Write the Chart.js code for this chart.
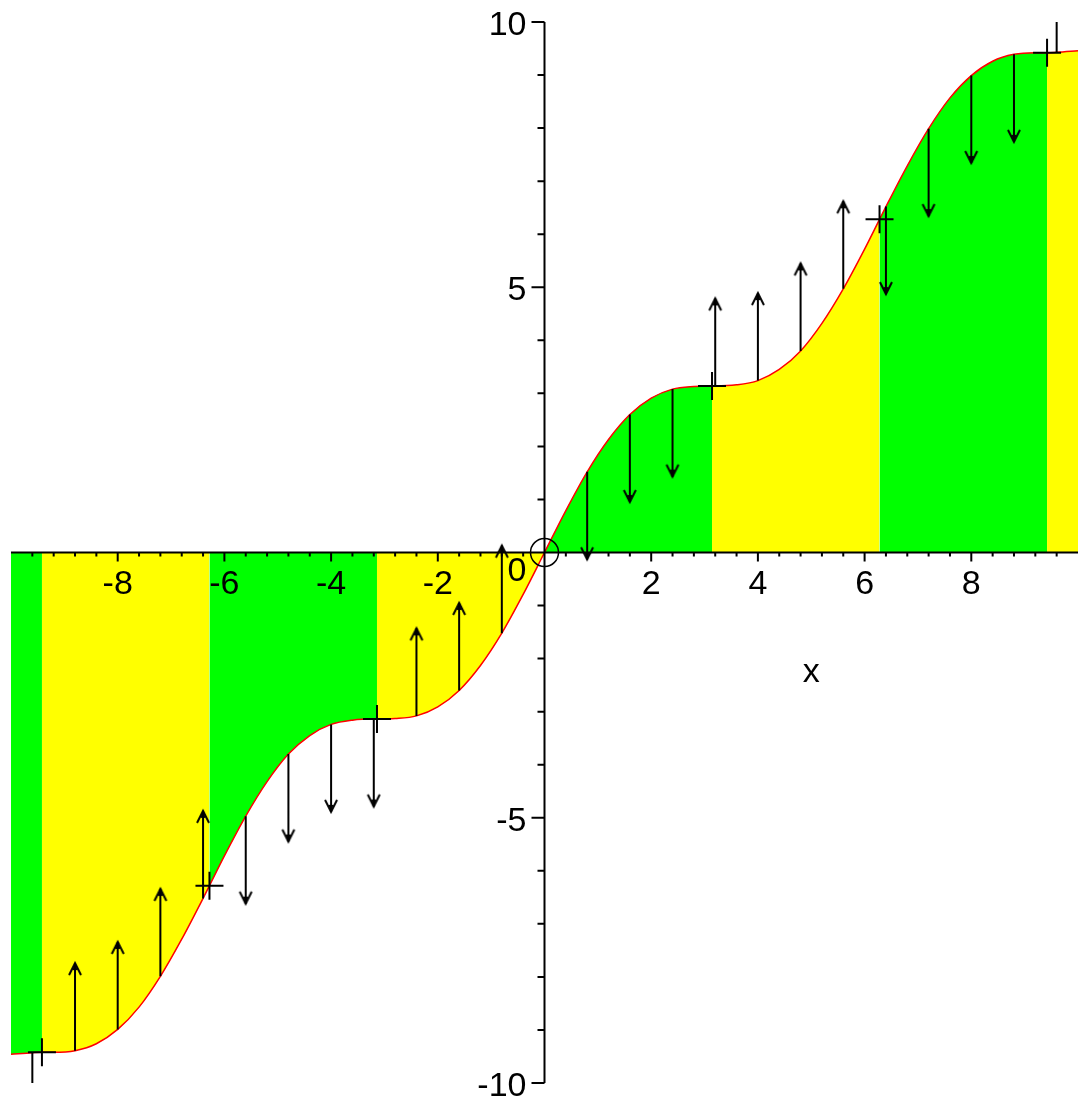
<!DOCTYPE html>
<html lang="en">
<head>
<meta charset="UTF-8">
<title>x + sin(x)</title>
<script src="https://cdn.jsdelivr.net/npm/chart.js"></script>
<style>
  html, body { margin: 0; padding: 0; background: #fff; }
  canvas { display: block; }
</style>
</head>
<body>
<canvas id="grafico" width="1078" height="1101"></canvas>
<script>
// curve points
const curveX = [-10, -9.6, -9.42, -9.2, -8.8, -8.4, -8, -7.6, -7.2, -6.8, -6.4, -6.28, -6, -5.6, -5.2, -4.8, -4.4, -4, -3.6, -3.2, -3.14, -2.8, -2.4, -2, -1.6, -1.2, -0.8, -0.4,
                0, 0.4, 0.8, 1.2, 1.6, 2, 2.4, 2.8, 3.14, 3.2, 3.6, 4, 4.4, 4.8, 5.2, 5.6, 6, 6.28, 6.4, 6.8, 7.2, 7.6, 8, 8.4, 8.8, 9.2, 9.42, 9.6, 10];
const curveY = [-9.46, -9.43, -9.42, -9.42, -9.39, -9.26, -8.99, -8.57, -7.99, -7.29, -6.52, -6.28, -5.72, -4.97, -4.32, -3.80, -3.45, -3.24, -3.16, -3.14, -3.14, -3.13, -3.08, -2.91, -2.60, -2.13, -1.52, -0.79,
                0, 0.79, 1.52, 2.13, 2.60, 2.91, 3.08, 3.13, 3.14, 3.14, 3.16, 3.24, 3.45, 3.80, 4.32, 4.97, 5.72, 6.28, 6.52, 7.29, 7.99, 8.57, 8.99, 9.26, 9.39, 9.42, 9.42, 9.43, 9.46];

// coloured bands between the curve and the x axis
const bandEdges = [-10, -9.42, -6.28, -3.14, 0, 3.14, 6.28, 9.42, 10];
const bandColors = ['#00ff00', '#ffff00', '#00ff00', '#ffff00', '#00ff00', '#ffff00', '#00ff00', '#ffff00'];

// vertical arrows (start on the curve, +1 up / -1 down)
const arrowX = [-9.6, -8.8, -8, -7.2, -6.4, -5.6, -4.8, -4, -3.2, -2.4, -1.6, -0.8, 0.8, 1.6, 2.4, 3.2, 4, 4.8, 5.6, 6.4, 7.2, 8, 8.8, 9.6];
const arrowDir = [-1, 1, 1, 1, 1, -1, -1, -1, -1, 1, 1, 1, -1, -1, -1, 1, 1, 1, 1, -1, -1, -1, -1, 1];
const arrowLen = 1.65;

// cross markers and the circle at the origin
const markX = [-9.42, -6.28, -3.14, 3.14, 6.28, 9.42];
const markY = [-9.42, -6.28, -3.14, 3.14, 6.28, 9.42];
const circleX = [0];
const circleY = [0];

// axis ticks
const xTickLabels = [-8, -6, -4, -2, 2, 4, 6, 8];
const yTickLabels = [-10, -5, 0, 5, 10];
const xMinorStep = 0.4;
const yMinorStep = 1;

const FONT = "34px 'Liberation Sans', Arial, sans-serif";

const curveData = curveX.map((x, i) => ({ x: x, y: curveY[i] }));

const arrowLines = [];
const arrowTips = [];
arrowX.forEach((x, i) => {
  const y0 = curveY[curveX.indexOf(x)];
  const y1 = y0 + arrowDir[i] * arrowLen;
  arrowLines.push({ x: x, y: y0 }, { x: x, y: y1 }, { x: x, y: null });
  arrowTips.push({ x: x, y: y1 });
});

function bandColor(xm) {
  for (let i = 0; i < bandColors.length; i++) {
    if (xm >= bandEdges[i] && xm <= bandEdges[i + 1]) return bandColors[i];
  }
  return bandColors[bandColors.length - 1];
}

// arrowhead, tip at the centre of the image
function makeHead() {
  const c = document.createElement('canvas');
  c.width = 16; c.height = 30;
  const g = c.getContext('2d');
  g.strokeStyle = '#000';
  g.fillStyle = '#000';
  g.lineWidth = 2;
  g.beginPath();
  g.moveTo(2, 27); g.lineTo(8, 15); g.lineTo(14, 27);
  g.stroke();
  g.beginPath();
  g.moveTo(8, 15); g.lineTo(5.5, 22); g.lineTo(10.5, 22);
  g.closePath();
  g.fill();
  return c;
}
const head = makeHead();

// axes through the origin, Maple style
const axesPlugin = {
  id: 'eixos',
  afterDatasetsDraw(chart) {
    const { ctx, chartArea: a, scales: { x, y } } = chart;
    const x0 = x.getPixelForValue(0);
    const y0 = y.getPixelForValue(0);
    ctx.save();
    ctx.strokeStyle = '#000';
    ctx.lineWidth = 2;
    ctx.beginPath();
    ctx.moveTo(a.left, y0); ctx.lineTo(a.right, y0);
    ctx.moveTo(x0, a.top); ctx.lineTo(x0, a.bottom);
    for (let k = -24; k <= 24; k++) {
      if (k === 0) continue;
      const px = x.getPixelForValue(k * xMinorStep);
      ctx.moveTo(px, y0);
      ctx.lineTo(px, y0 + (k % 5 === 0 ? 9 : 4));
    }
    for (let k = -10; k <= 10; k++) {
      if (k === 0) continue;
      const py = y.getPixelForValue(k * yMinorStep);
      ctx.moveTo(x0, py);
      ctx.lineTo(x0 - (k % 5 === 0 ? 13 : 7), py);
    }
    ctx.stroke();

    ctx.fillStyle = '#000';
    ctx.font = FONT;
    ctx.textBaseline = 'alphabetic';
    ctx.textAlign = 'center';
    xTickLabels.forEach(v => {
      ctx.fillText(String(v), x.getPixelForValue(v), y0 + 41);
    });
    ctx.textAlign = 'right';
    yTickLabels.forEach(v => {
      const py = y.getPixelForValue(v);
      ctx.fillText(String(v), x0 - 18, v === 0 ? py + 28 : py + 13);
    });
    ctx.textAlign = 'center';
    ctx.fillText('x', x.getPixelForValue(5), y0 + 129);
    ctx.restore();
  }
};

new Chart(document.getElementById('grafico'), {
  type: 'scatter',
  data: {
    datasets: [
      {
        data: curveData,
        showLine: true,
        order: 3,
        borderColor: '#ff0000',
        borderWidth: 1.5,
        pointRadius: 0,
        cubicInterpolationMode: 'monotone',
        fill: 'origin',
        backgroundColor: '#00ff00',
        segment: {
          backgroundColor: ctx => bandColor((ctx.p0.parsed.x + ctx.p1.parsed.x) / 2)
        }
      },
      {
        data: arrowLines,
        showLine: true,
        spanGaps: false,
        order: 2,
        borderColor: '#000',
        borderWidth: 2,
        pointRadius: 0
      },
      {
        data: arrowTips,
        order: 1,
        pointStyle: head,
        pointRadius: 6,
        pointRotation: ctx => arrowDir[ctx.dataIndex] > 0 ? 0 : 180
      },
      {
        data: markX.map((x, i) => ({ x: x, y: markY[i] })),
        order: 0,
        pointStyle: 'cross',
        pointRadius: 14,
        pointBorderWidth: 2,
        pointBorderColor: '#000'
      },
      {
        data: circleX.map((x, i) => ({ x: x, y: circleY[i] })),
        order: 0,
        pointStyle: 'circle',
        pointRadius: 14,
        pointBorderWidth: 1.5,
        pointBorderColor: '#000',
        pointBackgroundColor: 'rgba(0,0,0,0)'
      }
    ]
  },
  options: {
    responsive: false,
    animation: false,
    layout: { autoPadding: false, padding: { left: 11, top: 22, right: 0, bottom: 18 } },
    plugins: { legend: { display: false }, tooltip: { enabled: false } },
    scales: {
      x: { type: 'linear', min: -10, max: 10, display: false },
      y: { type: 'linear', min: -10, max: 10, display: false }
    }
  },
  plugins: [axesPlugin]
});
</script>
</body>
</html>
